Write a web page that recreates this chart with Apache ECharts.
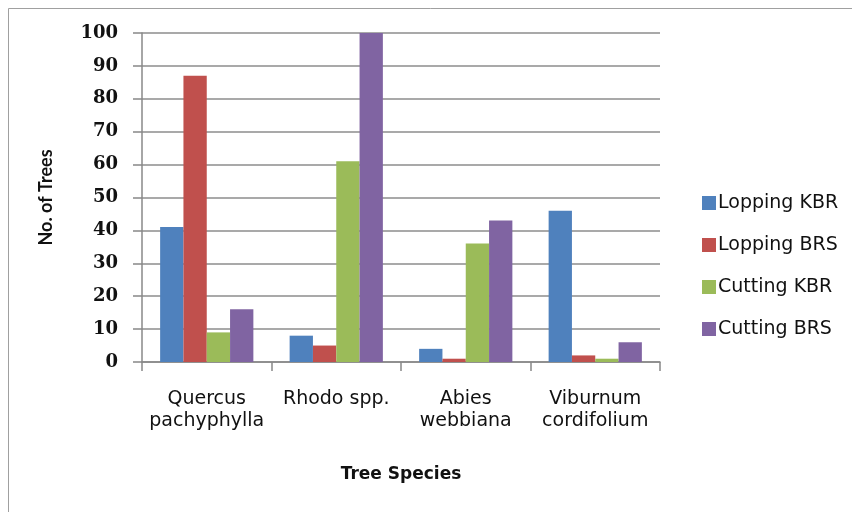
<!DOCTYPE html>
<html>
<head>
<meta charset="utf-8">
<script src="https://cdn.jsdelivr.net/npm/echarts@6/dist/echarts.min.js"></script>
<style>html,body{margin:0;padding:0;background:#fff}#c{width:852px;height:512px}</style>
</head>
<body>
<div id="c"></div>
<script>
const categories = ['Quercus\npachyphylla', 'Rhodo spp.', 'Abies\nwebbiana', 'Viburnum\ncordifolium'];
const loppingKBR = [41, 8, 4, 46];
const loppingBRS = [87, 5, 1, 2];
const cuttingKBR = [9, 61, 36, 1];
const cuttingBRS = [16, 100, 43, 6];
const yTicks = [0, 100, 10];

const chart = echarts.init(document.getElementById('c'), null, {renderer: 'canvas'});
const wideFont = 'DejaVu Sans';
const mk = (name, data, color) => ({
  name, type: 'bar', data, barGap: '0%', barCategoryGap: '28%',
  itemStyle: {color}
});
chart.setOption({
  animation: false,
  backgroundColor: '#fff',
  grid: {left: 142, right: 192, top: 33, bottom: 150, containLabel: false},
  graphic: [
    {type: 'line', shape: {x1: 8.5, y1: 8.5, x2: 852, y2: 8.5}, style: {stroke: '#a0a0a0', lineWidth: 1}},
    {type: 'line', shape: {x1: 8.5, y1: 8.5, x2: 8.5, y2: 512}, style: {stroke: '#a0a0a0', lineWidth: 1}}
  ],
  legend: {
    orient: 'vertical', left: 697, top: 188,
    itemWidth: 14, itemHeight: 14, itemGap: 22,
    icon: 'rect',
    textStyle: {fontFamily: wideFont, fontSize: 19, color: '#111', lineHeight: 20, padding: [0, 0, 0, -3]},
    data: ['Lopping KBR', 'Lopping BRS', 'Cutting KBR', 'Cutting BRS']
  },
  xAxis: {
    type: 'category', data: categories,
    name: 'Tree Species', nameLocation: 'middle', nameGap: 104,
    nameTextStyle: {fontFamily: wideFont, fontSize: 17, fontWeight: 'bold', color: '#111'},
    axisLine: {lineStyle: {color: '#888', width: 1.5}},
    axisTick: {show: true, length: 9, lineStyle: {color: '#888', width: 1.5}},
    axisLabel: {fontFamily: wideFont, fontSize: 19, color: '#111', margin: 26, lineHeight: 22, interval: 0}
  },
  yAxis: {
    type: 'value', min: yTicks[0], max: yTicks[1], interval: yTicks[2],
    name: 'No. of Trees', nameLocation: 'middle', nameGap: 87,
    nameTextStyle: {fontFamily: 'Lato', fontSize: 18, fontWeight: 'bold', color: '#111'},
    axisLine: {show: true, lineStyle: {color: '#888', width: 1.5}},
    axisTick: {show: true, length: 9, lineStyle: {color: '#888', width: 1.5}},
    axisLabel: {fontFamily: 'DejaVu Serif', fontSize: 18, fontWeight: 'bold', color: '#111', margin: 24},
    splitLine: {lineStyle: {color: '#8c8c8c', width: 1.5}}
  },
  series: [
    mk('Lopping KBR', loppingKBR, '#4F81BD'),
    mk('Lopping BRS', loppingBRS, '#C0504D'),
    mk('Cutting KBR', cuttingKBR, '#9BBB59'),
    mk('Cutting BRS', cuttingBRS, '#8064A2')
  ]
});
</script>
</body>
</html>
